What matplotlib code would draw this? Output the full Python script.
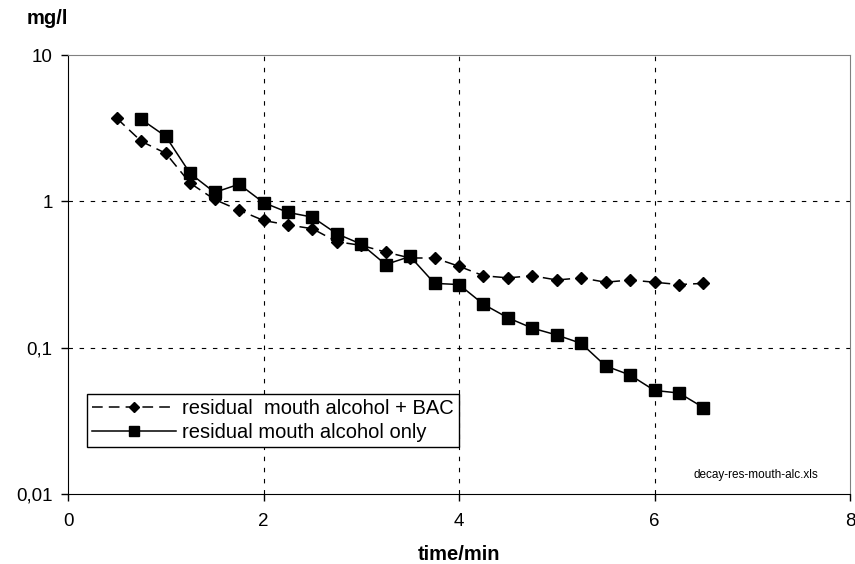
import numpy as np
import matplotlib
matplotlib.use('Agg')
import matplotlib.pyplot as plt
from matplotlib.ticker import FixedLocator, NullLocator

plt.rcParams['font.family'] = ['Liberation Sans', 'DejaVu Sans']

# residual mouth alcohol + BAC (diamonds, dashed)
t_bac = [0.5, 0.75, 1.0, 1.25, 1.5, 1.75, 2.0, 2.25, 2.5, 2.75, 3.0, 3.25, 3.5,
         3.75, 4.0, 4.25, 4.5, 4.75, 5.0, 5.25, 5.5, 5.75, 6.0, 6.25, 6.5]
c_bac = [3.69, 2.57, 2.13, 1.33, 1.03, 0.87, 0.74, 0.69, 0.65, 0.53, 0.50, 0.45, 0.41,
         0.41, 0.36, 0.31, 0.30, 0.31, 0.29, 0.30, 0.28, 0.29, 0.28, 0.27, 0.275]

# residual mouth alcohol only (squares, solid)
t_only = [0.75, 1.0, 1.25, 1.5, 1.75, 2.0, 2.25, 2.5, 2.75, 3.0, 3.25, 3.5,
          3.75, 4.0, 4.25, 4.5, 4.75, 5.0, 5.25, 5.5, 5.75, 6.0, 6.25, 6.5]
c_only = [3.63, 2.78, 1.55, 1.15, 1.31, 0.98, 0.84, 0.78, 0.60, 0.51, 0.37, 0.42,
          0.275, 0.27, 0.198, 0.16, 0.136, 0.122, 0.107, 0.075, 0.065, 0.051, 0.049, 0.039]

x_ticks = [0, 2, 4, 6, 8]
y_ticks = [0.01, 0.1, 1, 10]
y_labels = ['0,01', '0,1', '1', '10']

fig = plt.figure(figsize=(8.55, 5.64), dpi=100)
ax = fig.add_axes([68/855, 70/564, 782/855, 439/564])

ax.plot(t_bac, c_bac, color='black', lw=1.1, ls=(0, (7, 4)), marker='D', ms=6,
        label='residual  mouth alcohol + BAC')
ax.plot(t_only, c_only, color='black', lw=1.1, ls='-', marker='s', ms=8.5,
        label='residual mouth alcohol only')

ax.set_yscale('log')
ax.set_xlim(0, 8)
ax.set_ylim(0.01, 10)
ax.xaxis.set_major_locator(FixedLocator(x_ticks))
ax.yaxis.set_major_locator(FixedLocator(y_ticks))
ax.yaxis.set_minor_locator(NullLocator())
ax.set_yticklabels(y_labels)
ax.tick_params(axis='both', direction='out', length=5, width=1, labelsize=13.5, colors='black')
ax.tick_params(axis='x', pad=9)
ax.tick_params(axis='y', pad=6)

# dashed grid only inside
for gx in [2, 4, 6]:
    ax.axvline(gx, color='black', lw=0.8, ls=(0, (4, 6)), zorder=0)
for gy in [0.1, 1]:
    ax.axhline(gy, color='black', lw=0.8, ls=(0, (4, 6)), zorder=0)

ax.spines['left'].set_color('black')
ax.spines['bottom'].set_color('black')
ax.spines['top'].set_color('#808080')
ax.spines['right'].set_color('#808080')

fig.text(459/855, 1 - 555/564, 'time/min', fontsize=14.5, fontweight='bold',
         ha='center', va='center')
fig.text(27/855, 1 - 18/564, 'mg/l', fontsize=14.5, fontweight='bold', ha='left', va='center')

leg = ax.legend(loc='lower left', bbox_to_anchor=(0.024, 0.107), fontsize=14.5,
                frameon=True, fancybox=False, edgecolor='black', framealpha=1,
                handlelength=4.2, borderpad=0.25, labelspacing=0.25, handletextpad=0.3,
                borderaxespad=0, markerscale=0.85)
leg.get_frame().set_linewidth(1.0)

ax.text(0.88, 0.043, 'decay-res-mouth-alc.xls', transform=ax.transAxes, fontsize=8.5,
        ha='center', va='center')

fig.savefig('out.png', dpi=100)
